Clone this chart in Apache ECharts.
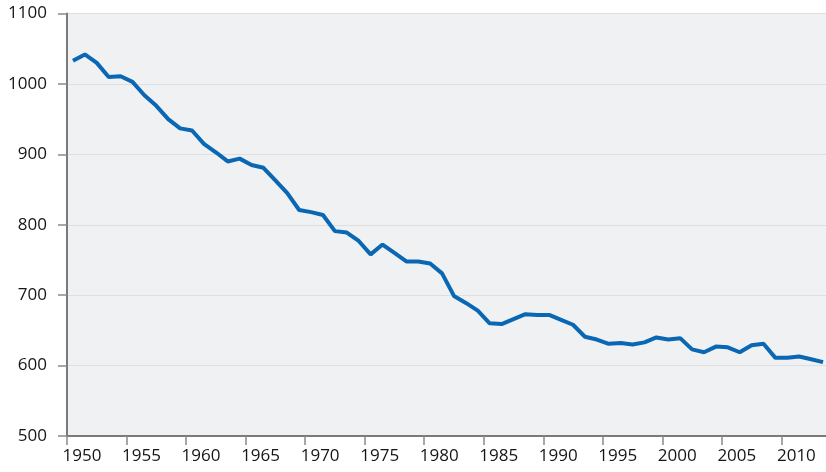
<!DOCTYPE html>
<html lang="en">
<head>
    <meta charset="utf-8" />
    <title></title>
    <script src="https://cdn.jsdelivr.net/npm/echarts@6/dist/echarts.min.js"></script>
</head>
<body style="margin:0;">
    <div id="main" style="width:826px;height:472px;"></div>
    <script type="text/javascript">
        // years and values
        var startYear = 1950;
        var values = [
            1033, 1042, 1030, 1010, 1011, 1003, 984, 969, 950, 937,
            934, 915, 903, 890, 894, 885, 881, 863, 845, 821,
            818, 814, 791, 789, 777, 758, 772, 760, 748, 748,
            745, 731, 699, 689, 678, 660, 659, 666, 673, 672,
            672, 665, 658, 641, 637, 631, 632, 630, 633, 640,
            637, 639, 623, 619, 627, 626, 619, 629, 631, 611,
            611, 613, 609, 605
        ];
        var years = values.map(function (v, i) { return startYear + i; });
        var yTicks = [500, 600, 700, 800, 900, 1000, 1100];

        // each year is drawn in the middle of its slot
        var seriesData = years.map(function (y, i) { return [y + 0.5, values[i]]; });

        var myChart = echarts.init(document.getElementById('main'));
        var font = 'Open Sans';
        var option = {
            animation: false,
            grid: {
                left: 67, width: 762, top: 13.6, bottom: 36,
                containLabel: false, outerBoundsMode: 'none',
                show: true, backgroundColor: '#f0f1f3', borderWidth: 0
            },
            xAxis: {
                type: 'value',
                min: 1950, max: 2014, interval: 5,
                axisLine: { show: true, lineStyle: { color: '#7a7a7a', width: 2 } },
                axisTick: { show: true, length: 9, lineStyle: { color: '#8a8a8a', width: 1.5 } },
                axisLabel: {
                    margin: 12,
                    color: '#151515',
                    fontFamily: font,
                    fontSize: 17,
                    padding: [0, 0, 0, 30],
                    formatter: function (v) { return v % 5 === 0 ? String(v) : ''; }
                },
                splitLine: { show: false }
            },
            yAxis: {
                type: 'value',
                min: yTicks[0], max: yTicks[yTicks.length - 1], interval: 100,
                axisLine: { show: true, lineStyle: { color: '#7a7a7a', width: 2 } },
                axisTick: { show: true, length: 9, lineStyle: { color: '#8a8a8a', width: 1.5 } },
                axisLabel: {
                    margin: 20,
                    color: '#151515',
                    fontFamily: font,
                    fontSize: 17,
                    formatter: function (v) { return String(v); }
                },
                splitLine: { show: true, lineStyle: { color: '#dcdee1', width: 1.2 } }
            },
            series: [
                {
                    type: 'line',
                    data: seriesData,
                    showSymbol: false,
                    lineStyle: { color: '#0a67b3', width: 4 }
                }
            ]
        };
        myChart.setOption(option);
    </script>
</body>
</html>
